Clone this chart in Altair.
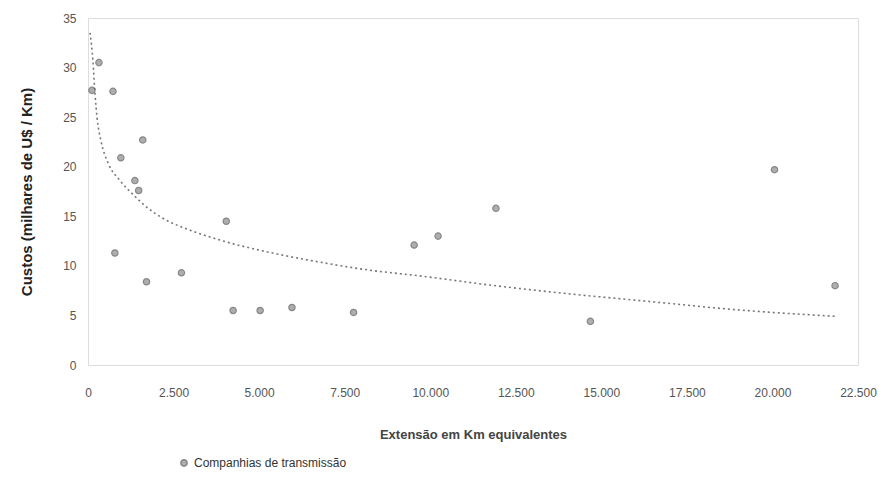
import altair as alt
import pandas as pd

extensao = [116, 320, 730, 785, 960, 1370, 1480, 1600, 1710, 2730, 4040, 4240,
            5030, 5960, 7760, 9530, 10230, 11920, 14680, 20060, 21830]
custos = [27.7, 30.5, 27.6, 11.3, 20.9, 18.6, 17.6, 22.7, 8.4, 9.3, 14.5, 5.5,
          5.5, 5.8, 5.3, 12.1, 13.0, 15.8, 4.4, 19.7, 8.0]
serie = "Companhias de transmissão"

# dotted trend line
trend_x = [60, 146, 205, 263, 380, 584, 935, 1315, 1724, 2190, 2980, 3860, 5520,
           6575, 7950, 9900, 11660, 14000, 16420, 18850, 21890]
trend_y = [33.5, 30.6, 27.3, 25.0, 22.6, 20.4, 18.6, 17.2, 15.9, 14.8, 13.6, 12.6,
           11.2, 10.5, 9.7, 8.9, 8.1, 7.2, 6.4, 5.6, 4.9]

x_ticks = [0, 2500, 5000, 7500, 10000, 12500, 15000, 17500, 20000, 22500]
y_ticks = [0, 5, 10, 15, 20, 25, 30, 35]

df = pd.DataFrame({"x": extensao, "y": custos, "serie": [serie] * len(extensao)})
df_trend = pd.DataFrame({"x": trend_x, "y": trend_y})

font = "Liberation Sans"

xenc = alt.X("x:Q", scale=alt.Scale(domain=[0, 22500], nice=False, zero=False),
             axis=alt.Axis(values=x_ticks, title="Extensão em Km equivalentes",
                           labelExpr="replace(format(datum.value, ','), ',', '.')",
                           grid=False, domain=False, ticks=False, labelFlush=False,
                           labelPadding=22, titlePadding=30,
                           labelFont=font, labelFontSize=12, labelColor="#555",
                           titleFont=font, titleFontSize=13, titleFontWeight="bold",
                           titleColor="#444"))
yenc = alt.Y("y:Q", scale=alt.Scale(domain=[0, 35], nice=False),
             axis=alt.Axis(values=y_ticks, title="Custos (milhares de U$ / Km)",
                           grid=False, domain=False, ticks=False,
                           labelPadding=12, titlePadding=28,
                           labelFont=font, labelFontSize=12, labelColor="#555",
                           titleFont=font, titleFontSize=15, titleFontWeight="bold",
                           titleColor="#222"))

trend = alt.Chart(df_trend).mark_line(
    color="#777", strokeDash=[2, 3], strokeWidth=1.6, interpolate="monotone"
).encode(x=xenc, y=yenc, order="x:Q")

points = alt.Chart(df).mark_point(filled=True, size=40, strokeWidth=1.2).encode(
    x=xenc, y=yenc,
    color=alt.Color("serie:N", scale=alt.Scale(range=["#8c8c8c"]),
                    legend=alt.Legend(title=None, orient="none", legendX=90, legendY=439,
                                      symbolType="circle", symbolSize=40,
                                      symbolFillColor="#8c8c8c", symbolStrokeColor="#555",
                                      labelFont=font, labelFontSize=12, labelColor="#333")),
    stroke=alt.value("#555"),
)

chart = alt.layer(trend, points).properties(
    width=770, height=347,
    autosize=alt.AutoSizeParams(type="none"),
    padding={"left": 88, "top": 18, "right": 36, "bottom": 129},
).configure_view(stroke=None).configure(background="white")

chart.save("out.html", embed_options={"renderer": "svg", "actions": False})
